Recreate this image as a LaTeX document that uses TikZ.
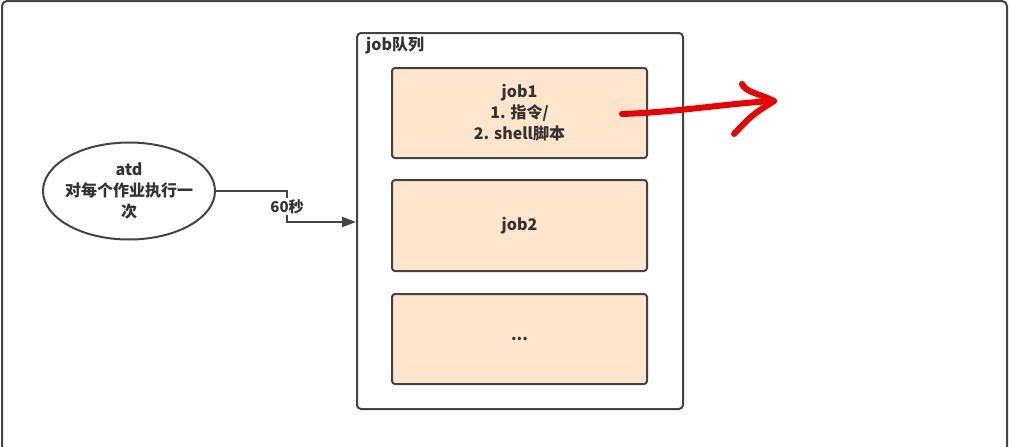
\documentclass[tikz,border=0pt]{standalone}
\usepackage{fontspec}
\setmainfont{Noto Sans CJK SC}
\usetikzlibrary{arrows.meta,shapes.geometric}
\definecolor{jobfill}{RGB}{255,229,204}
\definecolor{edge}{RGB}{68,68,68}
\definecolor{txt}{RGB}{51,51,51}
\definecolor{pen}{RGB}{235,0,0}
\tikzset{
  frame/.style={draw=edge, line width=2},
  jobbox/.style={draw=edge, fill=jobfill, rounded corners=3, line width=2,
    minimum width=255, minimum height=90, align=center, inner sep=0,
    text=txt, font=\fontsize{16}{21}\selectfont\bfseries},
  queuebox/.style={draw=edge, rounded corners=4, line width=2,
    minimum width=326, minimum height=376, inner sep=0},
  oval/.style={ellipse, draw=edge, line width=2, minimum width=172,
    minimum height=97, inner xsep=-5, inner ysep=0, align=center, text=txt,
    font=\fontsize{16}{21}\selectfont\bfseries},
  conn/.style={draw=edge, line width=2, -{Triangle[length=14,width=10]}},
  lbl/.style={fill=white, text=txt, inner sep=1, font=\fontsize{15}{17}\selectfont\bfseries},
  redpen/.style={draw=pen, line width=6, line cap=round, line join=round},
}
\begin{document}
\begin{tikzpicture}[x=1pt,y=-1pt]
\useasboundingbox (0,0) rectangle (1012,447);
\fill[white] (0,0) rectangle (1012,447);
% outer frame
\draw[frame, rounded corners=5] (2,447) -- (2,1) -- (1007,1) -- (1007,447);
% queue
\node[queuebox] (queue) at (520,221) {};
\node[anchor=west, text=txt, font=\fontsize{16}{21}\selectfont\bfseries, inner sep=0] (qlabel) at (366,45) {job队列};
% jobs
\node[jobbox] (job1) at (519.5,113) {job1\\1. 指令/\\2. shell脚本};
\node[jobbox, minimum height=91] (job2) at (519.5,225.5) {job2};
\node[jobbox] (job3) at (519.5,339) {...};
% atd
\node[oval] (atd) at (129,191) {atd\\对每个作业执行一\\次};
% connector
\coordinate (b1) at (287,191);
\coordinate (b2) at (287,222);
\draw[conn] (atd.east) -- (b1) -- node[lbl, midway] (lab) {60秒} (b2) -- (queue.west |- b2);
% red hand-drawn arrow
\coordinate (r0) at (622,114);
\coordinate (rtip) at (774,101);
\coordinate (rup) at (742,84);
\coordinate (rdn) at (734,134);
\draw[redpen] (r0) .. controls (680,112) and (730,103) .. (rtip);
\draw[redpen] (rup) .. controls (745,92) and (760,94) .. (rtip) .. controls (752,115) .. (rdn);
\end{tikzpicture}
\end{document}
